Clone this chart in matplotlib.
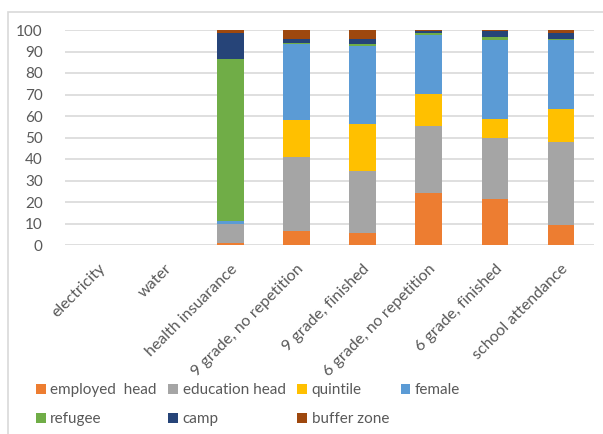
import numpy as np
import matplotlib
matplotlib.use("Agg")
import matplotlib.pyplot as plt
from matplotlib.patches import Rectangle

# categories on the x axis
categories = ["electricity", "water", "health insuarance", "9 grade, no repetition",
              "9 grade, finished", "6 grade, no repetition", "6 grade, finished",
              "school attendance"]

# stacked shares
employed_head = [0, 0, 1.0, 6.6, 5.4, 24.3, 21.2, 9.3]
education_head = [0, 0, 8.6, 34.2, 29.2, 31.0, 28.4, 38.7]
quintile = [0, 0, 0, 17.2, 21.5, 15.1, 8.8, 15.4]
female = [0, 0, 1.4, 35.5, 36.3, 27.3, 36.9, 31.8]
refugee = [0, 0, 75.7, 0.6, 1.1, 0.9, 1.3, 0.6]
camp = [0, 0, 12.0, 1.5, 2.3, 0.8, 2.8, 2.9]
buffer_zone = [0, 0, 1.3, 4.4, 4.2, 0.6, 0.6, 1.3]

series = [
    ("employed  head", employed_head, "#ED7D31"),
    ("education head", education_head, "#A5A5A5"),
    ("quintile", quintile, "#FFC000"),
    ("female", female, "#5B9BD5"),
    ("refugee", refugee, "#70AD47"),
    ("camp", camp, "#264478"),
    ("buffer zone", buffer_zone, "#9E480E"),
]

plt.rcParams['font.family'] = ['Lato', 'DejaVu Sans']
txt = "#595959"

fig = plt.figure(figsize=(6.03, 4.34), dpi=100)
ax = fig.add_axes([65 / 603, 1 - 245 / 434, 529 / 603, 215 / 434])

x = np.arange(len(categories))
bottom = np.zeros(len(categories))
handles = []
for name, vals, color in series:
    vals = np.array(vals, dtype=float)
    b = ax.bar(x, vals, 0.4, bottom=bottom, color=color, label=name, zorder=3)
    handles.append(b)
    bottom += vals

ax.set_xlim(-0.5, len(categories) - 0.5)
ax.set_ylim(0, 100)
ax.set_yticks(range(0, 101, 10))
ax.grid(axis="y", color="#D9D9D9", linewidth=1.2, zorder=0)
for s in ax.spines.values():
    s.set_visible(False)
ax.tick_params(axis="both", length=0, colors=txt, labelsize=11)
ax.tick_params(axis="y", pad=16)
ax.tick_params(axis="x", pad=12, labelsize=11.5)
ax.set_xticks(x)
ax.set_xticklabels(categories, rotation=45, ha="right", rotation_mode="anchor")

# legend is row-major in the original, matplotlib fills columns first
order = [0, 4, 1, 5, 2, 6, 3]
leg = fig.legend([handles[i] for i in order], [series[i][0] for i in order],
                 ncol=4, loc="lower left", bbox_to_anchor=(22 / 603, -6 / 434),
                 frameon=False, fontsize=11, handlelength=0.65, handleheight=0.65,
                 handletextpad=0.3, columnspacing=0.75, labelspacing=1.0)
for t in leg.get_texts():
    t.set_color(txt)

# chart area border
fig.patches.append(Rectangle((8 / 603, -0.01), 1.0, 1 - 12 / 434 + 0.01,
                             transform=fig.transFigure, fill=False,
                             edgecolor="#D9D9D9", linewidth=1.2))

fig.savefig("out.png", dpi=100)
